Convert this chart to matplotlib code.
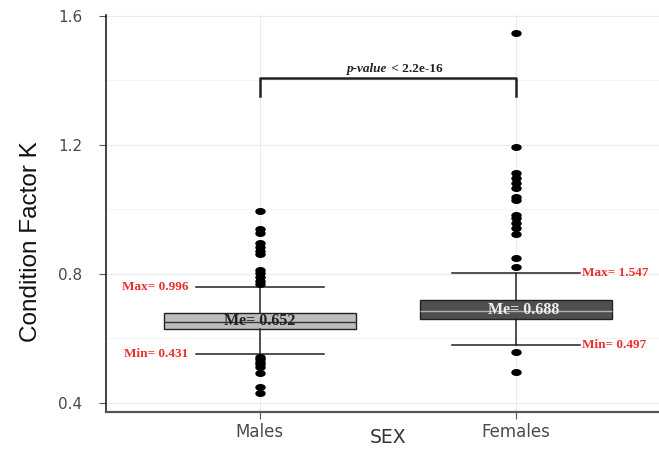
import matplotlib.pyplot as plt
from matplotlib.ticker import MultipleLocator
from matplotlib.path import Path

# box statistics
groups = ['Males', 'Females']
q1 = [0.630, 0.660]
med = [0.651, 0.685]
q3 = [0.679, 0.719]
whis_lo = [0.552, 0.580]
whis_hi = [0.760, 0.803]
fliers_m = [0.996, 0.940, 0.927, 0.896, 0.884, 0.871, 0.862, 0.812, 0.803,
            0.791, 0.778, 0.770, 0.543, 0.535, 0.527, 0.520, 0.512, 0.493,
            0.450, 0.431]
fliers_f = [1.547, 1.194, 1.113, 1.098, 1.082, 1.067, 1.039, 1.029, 0.983,
            0.974, 0.958, 0.943, 0.924, 0.850, 0.822, 0.558, 0.497]
med_labels = ['Me= 0.652', 'Me= 0.688']
max_labels = ['Max= 0.996', 'Max= 1.547']
min_labels = ['Min= 0.431', 'Min= 0.497']
pval = 1.408

fig = plt.figure(figsize=(6.59, 4.5), dpi=100)
ax = fig.add_axes([0.161, 0.0844, 0.839, 0.8823])

# flat dots like in the original
circ = Path.unit_circle()
flat_dot = Path(circ.vertices * [1, 0.62], circ.codes)

stats = []
for i, g in enumerate(groups):
    stats.append(dict(label=g, q1=q1[i], med=med[i], q3=q3[i],
                      whislo=whis_lo[i], whishi=whis_hi[i],
                      fliers=[fliers_m, fliers_f][i]))

bp = ax.bxp(stats, positions=[1, 2], widths=0.75, patch_artist=True,
            capwidths=0.5, showfliers=True,
            whiskerprops=dict(color='#222222', lw=1.1),
            capprops=dict(color='#222222', lw=1.1),
            flierprops=dict(marker=flat_dot, markerfacecolor='black',
                            markeredgecolor='black', markersize=6.5))
fills = ['#bcbcbc', '#4f4f4f']
medc = ['#333333', '#b0b0b0']
for i, b in enumerate(bp['boxes']):
    b.set_facecolor(fills[i])
    b.set_edgecolor('#222222')
    b.set_linewidth(1.0)
    bp['medians'][i].set_color(medc[i])
    bp['medians'][i].set_linewidth(1.0)

# labels on the boxes
serif = 'Liberation Serif'
ax.text(1, med[0] + 0.004, med_labels[0], ha='center', va='center',
        fontsize=11.5, fontweight='bold', family=serif, color='#222222')
ax.text(2.03, med[1] + 0.004, med_labels[1], ha='center', va='center',
        fontsize=11.5, fontweight='bold', family=serif, color='#eeeeee')
red = '#e8302a'
ax.text(0.72, whis_hi[0], max_labels[0], ha='right', va='center', fontsize=9.5,
        fontweight='bold', family=serif, color=red)
ax.text(0.72, whis_lo[0], min_labels[0], ha='right', va='center', fontsize=9.5,
        fontweight='bold', family=serif, color=red)
ax.text(2.26, whis_hi[1], max_labels[1], ha='left', va='center', fontsize=9.5,
        fontweight='bold', family=serif, color=red)
ax.text(2.26, whis_lo[1], min_labels[1], ha='left', va='center', fontsize=9.5,
        fontweight='bold', family=serif, color=red)

# significance bracket
ax.plot([1, 1, 2, 2], [pval - 0.056, pval, pval, pval - 0.056],
        color='#222222', lw=1.8)
ax.text(1.5, pval + 0.01, 'p-value', ha='right', va='bottom', fontsize=9.5,
        fontweight='bold', fontstyle='italic', family=serif, color='#222222')
ax.text(1.5, pval + 0.01, ' < 2.2e-16', ha='left', va='bottom', fontsize=9.5,
        fontweight='bold', family=serif, color='#222222')

ax.set_xlim(0.4, 2.56)
ax.set_ylim(0.372, 1.603)
ax.yaxis.set_major_locator(MultipleLocator(0.4))
ax.yaxis.set_minor_locator(MultipleLocator(0.2))
ax.grid(True, which='major', color='#ebebeb', lw=0.8)
ax.grid(True, which='minor', axis='y', color='#f3f3f3', lw=0.6)
ax.set_axisbelow(True)
ax.set_xticks([1, 2], groups)

for s in ['top', 'right']:
    ax.spines[s].set_visible(False)
ax.spines['left'].set_color('#222222')
ax.spines['left'].set_linewidth(1.2)
ax.spines['bottom'].set_color('#555555')
ax.spines['bottom'].set_linewidth(1.6)
ax.tick_params(axis='both', which='major', length=5, color='#555555',
               labelcolor='#4a4a4a')
ax.tick_params(axis='y', which='major', labelsize=11, pad=12)
ax.tick_params(axis='x', which='major', labelsize=12, pad=3)
ax.tick_params(axis='y', which='minor', length=0)
for t in ax.get_xticklabels() + ax.get_yticklabels():
    t.set_family('DejaVu Sans')

ax.set_xlabel('SEX', fontsize=13.5, color='#333333',
              family='DejaVu Sans', va='baseline')
ax.xaxis.set_label_coords(0.51, -0.079)
ax.set_ylabel('Condition Factor K', fontsize=17.5, color='#111111',
              family='Liberation Sans')
ax.yaxis.set_label_coords(-0.116, 0.428)

fig.savefig('out.png', dpi=100)
